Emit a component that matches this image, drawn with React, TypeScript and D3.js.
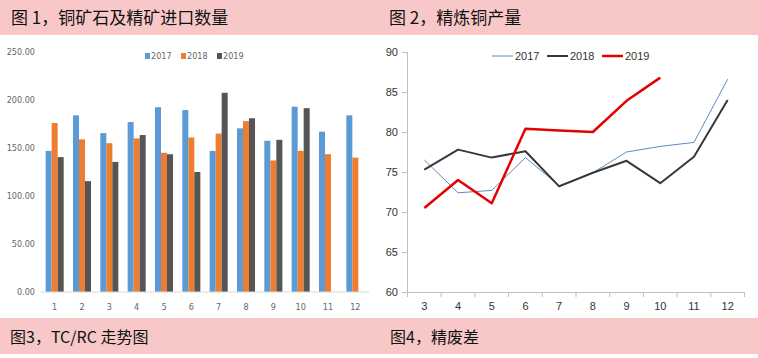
import React from "react";
import * as d3 from "d3";

// 图1 铜矿石及精矿进口数量
const months = ["1", "2", "3", "4", "5", "6", "7", "8", "9", "10", "11", "12"];
const imports2017 = [147, 184, 165.5, 177, 192.5, 189.5, 147, 170.5, 157.5, 193, 167, 184];
const imports2018 = [176, 159, 155, 160, 145, 161, 165, 178, 137, 147, 143.5, 140];
const imports2019 = [140.5, 115.5, 135.5, 163.5, 143.5, 125, 207.5, 181, 158.5, 191.5, null, null];
const barYears = ["2017", "2018", "2019"];
const barColors = ["#5b9bd5", "#ed7d31", "#555555"];
const barTicks = [0, 50, 100, 150, 200, 250];

// 图2 精炼铜产量
const prodMonths = ["3", "4", "5", "6", "7", "8", "9", "10", "11", "12"];
const prod2017 = [76.5, 72.4, 72.7, 76.8, 73.3, 74.9, 77.5, 78.2, 78.7, 86.6];
const prod2018 = [75.3, 77.8, 76.8, 77.6, 73.2, 74.9, 76.4, 73.6, 76.9, 84];
const prod2019 = [70.5, 74, 71.1, 80.4, 80.2, 80, 83.9, 86.8];
const prodTicks = [60, 65, 70, 75, 80, 85, 90];
const lineYears = ["2017", "2018", "2019"];
const lineColors = ["#5a8ac6", "#383838", "#e60000"];
const lineWidths = [1, 2, 2.5];

const cjk = "'Noto Sans CJK SC', sans-serif";
const narrow = "'Liberation Sans Narrow', 'DejaVu Sans Condensed', sans-serif";
const pink = "#f8c8c8";

function BarChart() {
  const x = d3.scaleBand<string>().domain(months).range([41, 369]).paddingInner(0.34).paddingOuter(0.17);
  const inner = d3.scaleBand<string>().domain(barYears).range([0, x.bandwidth()]);
  const y = d3.scaleLinear().domain([0, 250]).range([292, 52]);
  const series = [imports2017, imports2018, imports2019];
  return (
    <g>
      {barTicks.map((t) => (
        <text key={t} x={35} y={y(t)} dy="0.35em" textAnchor="end" fontSize={9} fill="#666" fontFamily={narrow}>
          {t.toFixed(2)}
        </text>
      ))}
      {series.map((vals, si) =>
        vals.map((v, i) =>
          v == null ? null : (
            <rect
              key={si + "-" + i}
              x={(x(months[i]) as number) + (inner(barYears[si]) as number)}
              y={y(v)}
              width={inner.bandwidth()}
              height={y(0) - y(v)}
              fill={barColors[si]}
            />
          )
        )
      )}
      <line x1={41} x2={369} y1={y(0)} y2={y(0)} stroke="#d9d9d9" strokeWidth={1} />
      {months.map((m) => (
        <text key={m} x={(x(m) as number) + x.bandwidth() / 2} y={310} textAnchor="middle" fontSize={9} fill="#666" fontFamily={narrow}>
          {m}
        </text>
      ))}
      {barYears.map((yr, i) => (
        <g key={yr} transform={`translate(${145 + i * 36},56)`}>
          <rect x={0} y={-3} width={5} height={6} fill={barColors[i]} />
          <text x={6} y={0} dy="0.35em" fontSize={9} fill="#666" fontFamily={narrow}>
            {yr}
          </text>
        </g>
      ))}
    </g>
  );
}

function LineChart() {
  const x = d3.scaleBand<string>().domain(prodMonths).range([407.5, 744.5]);
  const cx = (i: number) => (x(prodMonths[i]) as number) + x.bandwidth() / 2;
  const y = d3.scaleLinear().domain([60, 90]).range([292, 52]);
  const line = d3
    .line<number>()
    .x((_, i) => cx(i))
    .y((d) => y(d));
  const series = [prod2017, prod2018, prod2019];
  const bounds = prodMonths.map((m) => x(m) as number).concat([744.5]);
  return (
    <g>
      <line x1={407.5} x2={407.5} y1={52} y2={292} stroke="#bfbfbf" />
      {prodTicks.map((t) => (
        <g key={t}>
          <line x1={402} x2={407.5} y1={Math.round(y(t)) + 0.5} y2={Math.round(y(t)) + 0.5} stroke="#bfbfbf" />
          <text x={398} y={y(t)} dy="0.35em" textAnchor="end" fontSize={11} fill="#333" fontFamily="'Liberation Sans', sans-serif">
            {t}
          </text>
        </g>
      ))}
      <line x1={407.5} x2={744.5} y1={292.5} y2={292.5} stroke="#bfbfbf" />
      {bounds.map((b, i) => (
        <line key={i} x1={b} x2={b} y1={292.5} y2={297} stroke="#bfbfbf" />
      ))}
      {prodMonths.map((m, i) => (
        <text key={m} x={cx(i)} y={310} textAnchor="middle" fontSize={11} fill="#333" fontFamily="'Liberation Sans', sans-serif">
          {m}
        </text>
      ))}
      {series.map((vals, si) => (
        <path key={si} d={line(vals) || ""} fill="none" stroke={lineColors[si]} strokeWidth={lineWidths[si]} strokeLinejoin="round" />
      ))}
      {lineYears.map((yr, i) => (
        <g key={yr} transform={`translate(${492 + i * 55},56)`}>
          <line x1={0} x2={21} y1={0} y2={0} stroke={lineColors[i]} strokeWidth={lineWidths[i]} />
          <text x={23} y={0} dy="0.35em" fontSize={11} fill="#333" fontFamily="'Liberation Sans', sans-serif">
            {yr}
          </text>
        </g>
      ))}
    </g>
  );
}

export default function App() {
  return (
    <div style={{ position: "absolute", left: 0, top: 0 }}>
      <svg width={758} height={358} style={{ display: "block", background: "#fff" }}>
        <rect x={0} y={0} width={758} height={35} fill={pink} />
        <rect x={0} y={318} width={758} height={36} fill={pink} />
        <text x={11} y={24} fontSize={17} fontFamily={cjk} fill="#111">
          图 1，铜矿石及精矿进口数量
        </text>
        <text x={389} y={24} fontSize={17} fontFamily={cjk} fill="#111">
          图 2，精炼铜产量
        </text>
        <text x={10} y={343} fontSize={16} fontFamily={cjk} fill="#111">
          图3，TC/RC 走势图
        </text>
        <text x={390} y={343} fontSize={16} fontFamily={cjk} fill="#111">
          图4，精废差
        </text>
        <BarChart />
        <LineChart />
      </svg>
    </div>
  );
}
